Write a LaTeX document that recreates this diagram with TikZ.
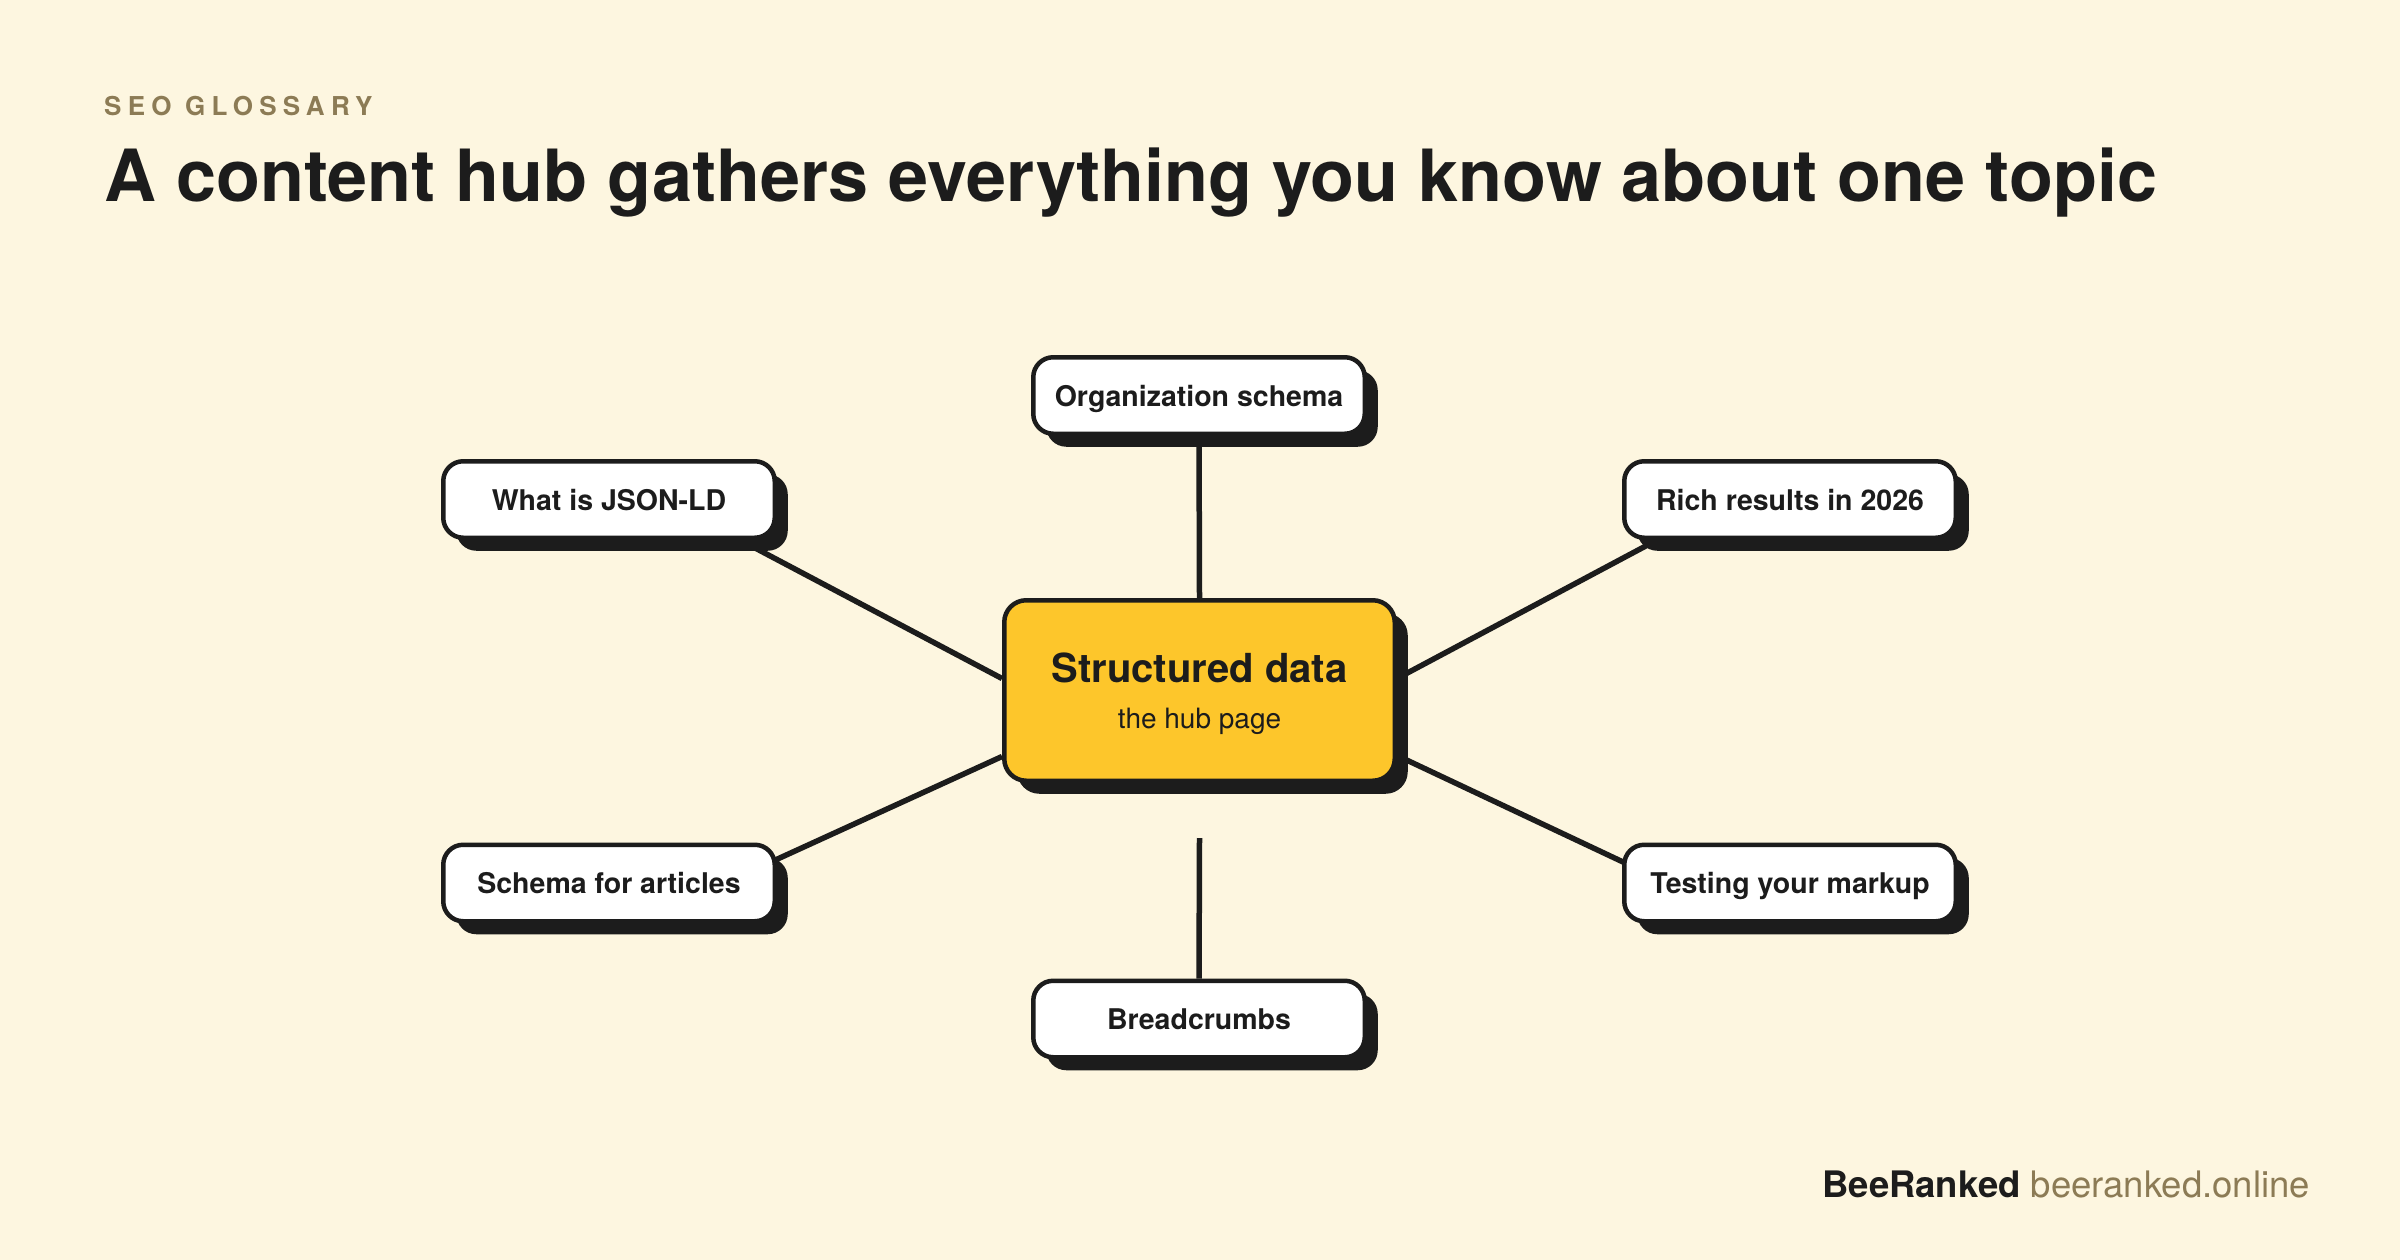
\documentclass[tikz,border=0pt]{standalone}
\usepackage{fontspec}
\setmainfont{TeX Gyre Heros}
\usetikzlibrary{calc,shadows}
\definecolor{bgc}{HTML}{FDF6E0}
\definecolor{ink}{HTML}{1C1C1C}
\definecolor{hubc}{HTML}{FDC62B}
\definecolor{olive}{HTML}{8C7B55}
\pgfdeclarelayer{paper}
\pgfdeclarelayer{background}
\pgfsetlayers{paper,background,main}
\begin{document}
\begin{tikzpicture}[x=1pt,y=-1pt,
  sat/.style={draw=ink, line width=4.5pt, fill=white, rounded corners=20pt,
    minimum width=331.5pt, minimum height=76.5pt, inner sep=0pt,
    font=\fontsize{28.5}{34}\selectfont\bfseries, text=ink,
    text height=21pt, text depth=0pt,
    drop shadow={shadow xshift=13pt, shadow yshift=-13pt, fill=ink, opacity=1}},
  hubbox/.style={draw=ink, line width=4.5pt, fill=hubc, rounded corners=22pt,
    minimum width=390.5pt, minimum height=180.5pt, inner sep=0pt,
    drop shadow={shadow xshift=13pt, shadow yshift=-13pt, fill=ink, opacity=1}},
  link/.style={draw=ink, line width=5.5pt},
  plain/.style={inner sep=0pt, text=ink}]

\begin{pgfonlayer}{paper}
  \fill[bgc] (0,0) rectangle (2400,1260);
\end{pgfonlayer}
\useasboundingbox (0,0) rectangle (2400,1260);

% header
\node[plain, anchor=base west, text=olive,
  font=\fontsize{26}{30}\selectfont\bfseries\addfontfeature{LetterSpace=24}] (kicker) at (104,116) {SEO GLOSSARY};
\node[plain, anchor=base west, font=\fontsize{72}{82}\selectfont\bfseries] (title) at (104,202)
  {A content hub gathers everything you know about one topic};

% hub and satellites
\node[hubbox] (hub) at (1199.5,690.5) {};
\node[plain, anchor=base, font=\fontsize{40}{46}\selectfont\bfseries] (hubtitle) at ($(hub.center)+(0,-8.5)$) {Structured data};
\node[plain, anchor=base, font=\fontsize{28}{32}\selectfont] (hubsub) at ($(hub.center)+(0,37.5)$) {the hub page};

\node[sat] (org) at (1199,395.5) {Organization schema};
\node[sat] (json) at (609,499.5) {What is JSON-LD};
\node[sat] (rich) at (1790,499.5) {Rich results in 2026};
\node[sat] (schema) at (609,883) {Schema for articles};
\node[sat] (test) at (1790,883) {Testing your markup};
\node[sat] (crumbs) at (1199,1019) {Breadcrumbs};

% connectors
\coordinate (gap) at ($(hub.south)+(0,55)$);
\coordinate (j1) at ($(json.south)+(131,0)$);
\coordinate (h1) at ($(hub.west)+(0,-12)$);
\coordinate (s1) at ($(schema.east)+(-17,-16)$);
\coordinate (h2) at ($(hub.west)+(0,66)$);
\coordinate (r1) at ($(rich.south)+(-133,0)$);
\coordinate (h3) at ($(hub.east)+(0,-12)$);
\coordinate (t1) at ($(test.west)+(18,-13)$);
\coordinate (h4) at ($(hub.east)+(0,65)$);
\begin{pgfonlayer}{background}
  \draw[link] (org.south) -- (hub.north);
  \draw[link] (gap) -- (crumbs.north);
  \draw[link] (j1) -- (h1);
  \draw[link] (s1) -- (h2);
  \draw[link] (r1) -- (h3);
  \draw[link] (t1) -- (h4);
\end{pgfonlayer}

% footer
\node[plain, anchor=base east, font=\fontsize{36.5}{42}\selectfont] (footer) at (2310,1197)
  {\textbf{BeeRanked} \textcolor{olive}{beeranked.online}};
\end{tikzpicture}
\end{document}
